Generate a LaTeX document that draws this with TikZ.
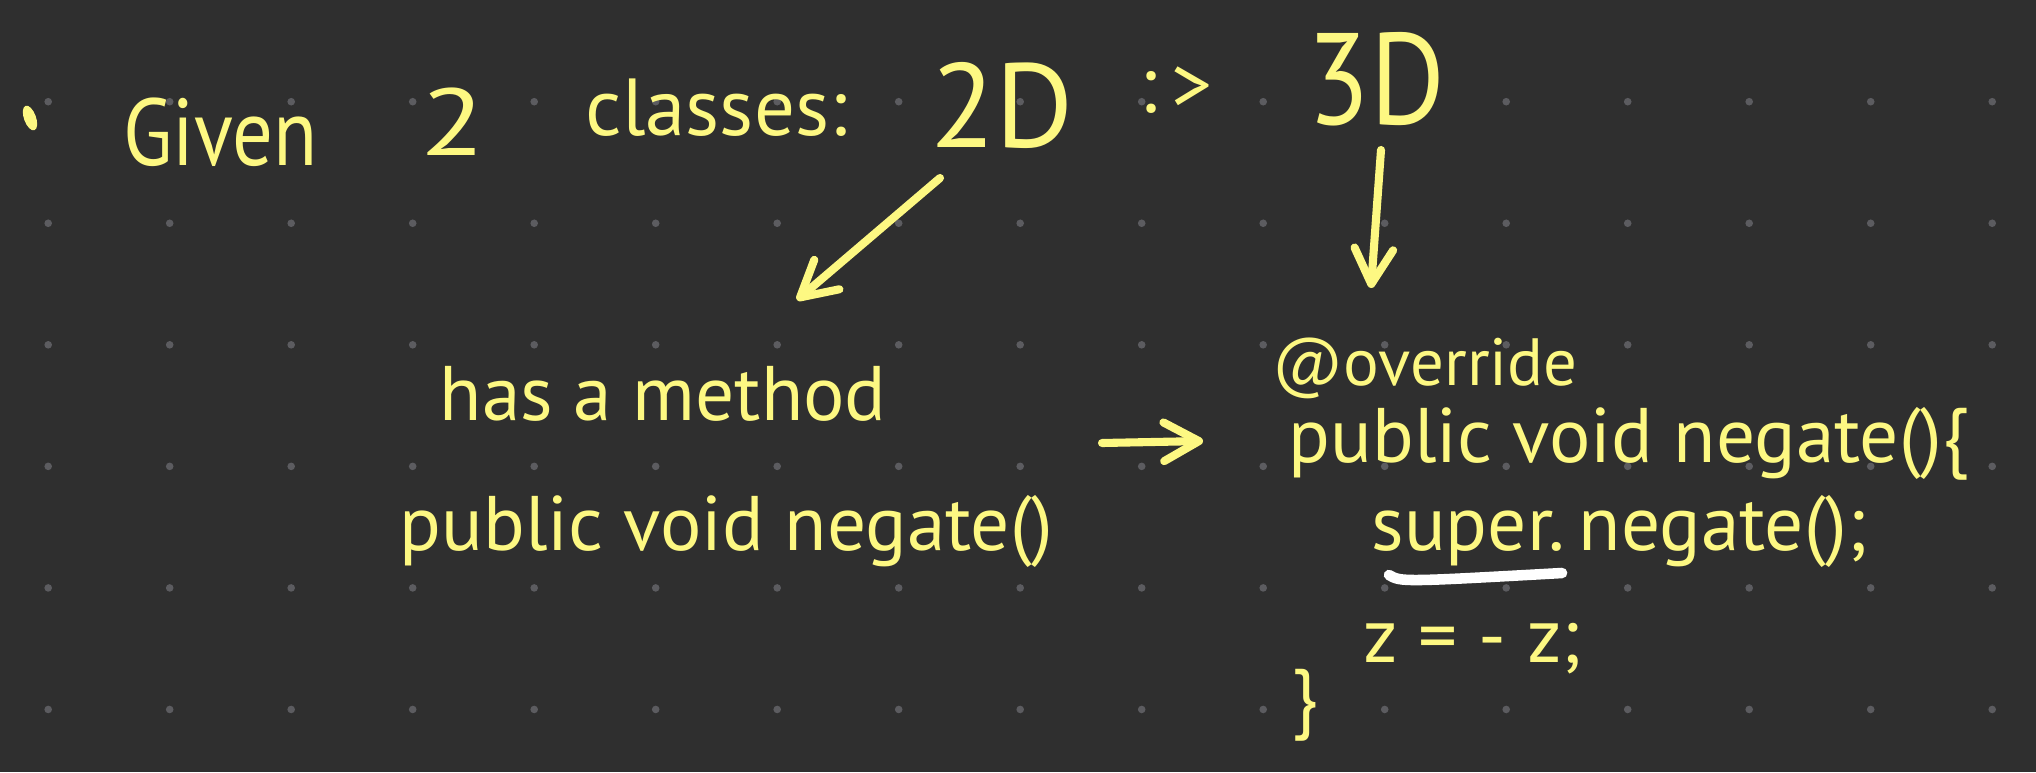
\documentclass[tikz,border=0pt]{standalone}
\usepackage{fontspec}
\setmainfont{PT Sans}
\usetikzlibrary{arrows.meta,calc}
\definecolor{board}{HTML}{2F2F2F}
\definecolor{gridgray}{HTML}{5C5C60}
\definecolor{chalk}{HTML}{FDF882}
\newcommand{\fs}[1]{\fontsize{#1}{#1}\selectfont}
\tikzset{
  hand/.style={text=chalk, inner sep=0pt, anchor=base west},
  penarr/.style={-{Straight Barb[length=10pt,width=11pt,round]}, line width=2.3pt,
    draw=chalk, line cap=round, line join=round},
  underl/.style={draw=white, line width=3pt, line cap=round, line join=round},
  gdot/.style={fill=gridgray}
}

\begin{document}
\begin{tikzpicture}[x=0.01cm,y=-0.01cm]
  \fill[board] (0,0) rectangle (2036,772);
  \foreach \i in {0,...,16}
    \foreach \j in {0,...,5}
      \fill[gdot] (48.2+121.5*\i,101.7+121.55*\j) circle (3.8);
  % first line
  \fill[chalk, rotate around={20:(30,118)}] (30,118) ellipse (6 and 13);
  \node[hand, font=\fs{27}, xscale=0.85] (given) at (123,165) {Given};
  \node[hand, font=\fs{27}, xscale=1.25] (num) at (420,155) {2};
  \node[hand, font=\fs{23}] (classes) at (585,135) {classes:};
  \node[hand, font=\fs{34}] (twoD) at (930,147) {2D};
  \node[hand, font=\fs{23}] (subtype) at (1139,112) {:\hspace{4pt}>};
  \node[hand, font=\fs{37}, xscale=0.88] (threeD) at (1307,124) {3D};
  % left side
  \node[hand, font=\fs{22}] (hasmethod) at (439,420) {has a method};
  \node[hand, font=\fs{22}] (negateA) at (399,550) {public void negate()};
  % right side
  \node[hand, font=\fs{19}] (override) at (1272,385) {@override};
  \node[hand, font=\fs{22}] (negateB) at (1288,462) {public void negate()\{};
  \node[hand, font=\fs{22}] (superkw) at (1371,550) {super.};
  \node[hand, font=\fs{22}] (supercall) at ($(superkw.base east)+(12,0)$) {negate();};
  \node[hand, font=\fs{22}] (zline) at (1363,662) {z = - z;};
  \node[hand, font=\fs{22}] (closebrace) at (1291,723) {\}};
  % arrows
  \draw[penarr] ($(twoD.base west)+(10,31)$) -- ($(hasmethod.base west)+(358,-120)$);
  \draw[penarr] ($(threeD.base west)+(74,26)$) -- ($(override.base west)+(99,-97)$);
  \draw[penarr] ($(negateA.base west)+(703,-107)$) -- ($(negateB.base west)+(-85,-21)$);
  \draw[underl] ($(superkw.base west)+(18,25)$) .. controls ($(superkw.base west)+(30,32)$)
    .. ($(superkw.base east)+(-4,23)$);
\end{tikzpicture}
\end{document}
